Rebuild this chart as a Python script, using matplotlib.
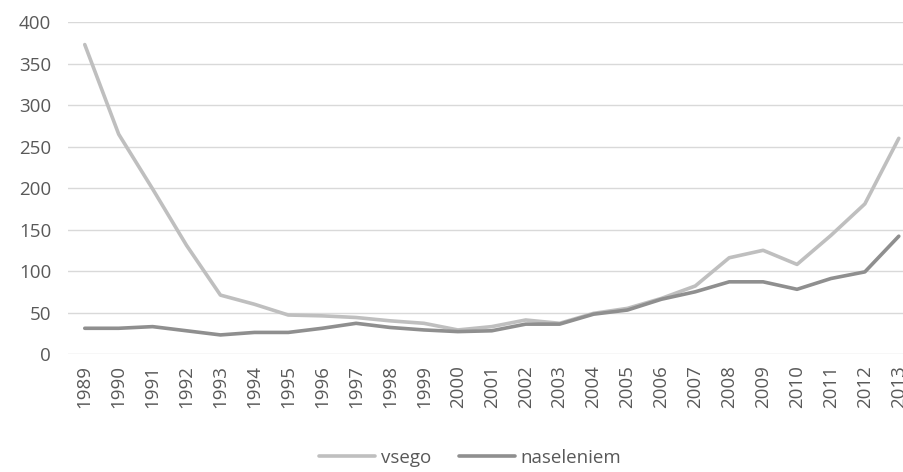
import numpy as np
import matplotlib.pyplot as plt

years = [str(y) for y in range(1989, 2014)]
vsego = [373, 265, 199, 131, 71, 60, 47, 46, 44, 40, 37, 29, 33, 41, 37,
         49, 55, 67, 82, 116, 125, 108, 143, 181, 260]
naseleniem = [31, 31, 33, 28, 23, 26, 26, 31, 37, 32, 29, 27, 28, 36, 36,
              48, 53, 66, 75, 87, 87, 78, 91, 99, 142]

plt.rcParams['font.family'] = ['Open Sans', 'DejaVu Sans']
text_color = '#595959'

fig = plt.figure(figsize=(9.04, 4.72), dpi=100)
ax = fig.add_axes([0.075, 0.25, 0.938, 0.703])

x = np.arange(len(years))
ax.plot(x, vsego, color='#bfbfbf', linewidth=2.6, solid_capstyle='round', label='vsego')
ax.plot(x, naseleniem, color='#8f8f8f', linewidth=2.6, solid_capstyle='round', label='naseleniem')

ax.set_xlim(-0.5, len(years) - 0.5)
ax.set_ylim(0, 400)
ax.set_yticks(range(0, 401, 50))
ax.set_xticks(x)
ax.set_xticklabels(years, rotation=90)
ax.grid(axis='y', color='#d9d9d9', linewidth=1)
ax.set_axisbelow(True)
for s in ax.spines.values():
    s.set_visible(False)
ax.tick_params(length=0, colors=text_color, labelsize=13.5)
ax.tick_params(axis='y', pad=12)
ax.tick_params(axis='x', pad=8)

fig.legend(loc='lower center', bbox_to_anchor=(0.52, -0.025), ncol=2, frameon=False,
           fontsize=13.5, labelcolor=text_color, handlelength=3.0, handletextpad=0.3,
           columnspacing=1.5)

fig.savefig('out.png', dpi=100)
